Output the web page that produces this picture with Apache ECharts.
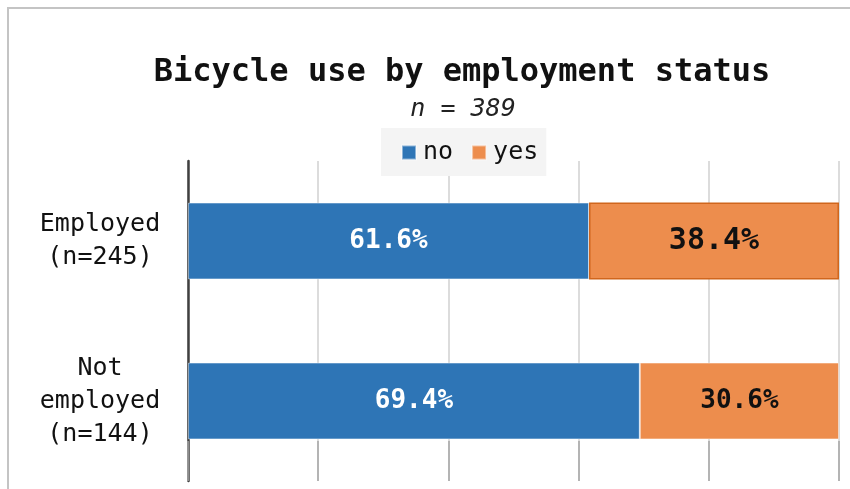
<!DOCTYPE html>
<html>
<head>
<meta charset="utf-8">
<script src="https://cdn.jsdelivr.net/npm/echarts@6/dist/echarts.min.js"></script>
<style>
html,body{margin:0;padding:0;background:#fff;}
#chart{width:850px;height:489px;}
</style>
</head>
<body>
<div id="chart"></div>
<script>
const categories = ["Employed\n(n=245)", "Not\nemployed\n(n=144)"];
const seriesNames = ["no", "yes"];
const noValues = [61.6, 69.4];
const yesValues = [38.4, 30.6];
const xTicks = [0, 20, 40, 60, 80, 100];

const MONO = '"DejaVu Sans Mono", "Liberation Mono", monospace';
const chart = echarts.init(document.getElementById('chart'), null, {renderer: 'canvas'});

const yesData = yesValues.map((v, i) => {
  const d = {value: v};
  if (i === 0) {
    d.itemStyle = {borderColor: '#d0661d', borderWidth: 1.5};
    d.label = {fontSize: 30};
  }
  return d;
});

chart.setOption({
  backgroundColor: '#ffffff',
  animation: false,
  graphic: [{
    type: 'rect',
    shape: {x: 8, y: 8, width: 900, height: 600},
    style: {fill: 'none', stroke: '#c4c4c4', lineWidth: 2},
    silent: true, z: -10
  }],
  title: [
    {
      text: 'Bicycle use by employment status',
      left: 462, top: 57, textAlign: 'center', padding: 0,
      textStyle: {fontFamily: MONO, fontWeight: 'bold', fontSize: 32, color: '#111'}
    },
    {
      text: 'n = 389',
      left: 463, top: 97, textAlign: 'center', padding: 0,
      textStyle: {fontFamily: MONO, fontStyle: 'italic', fontWeight: 'normal', fontSize: 25, color: '#222'}
    }
  ],
  legend: {
    data: seriesNames,
    left: 381, top: 128,
    padding: [12, 8, 11, 20],
    backgroundColor: '#f4f4f4',
    itemWidth: 14, itemHeight: 14, itemGap: 18,
    icon: 'rect',
    textStyle: {fontFamily: MONO, fontSize: 25, color: '#111', padding: [0, 0, 0, 2]}
  },
  grid: {left: 188, right: 11, top: 161, bottom: 8, containLabel: false},
  xAxis: {
    type: 'value', min: 0, max: 100, interval: 20,
    axisLabel: {show: false},
    axisLine: {show: false},
    axisTick: {show: true, inside: true, length: 40, lineStyle: {color: '#a6a6a6', width: 1.5}},
    splitLine: {show: true, lineStyle: {color: '#d0d0d0', width: 1.5}}
  },
  yAxis: {
    type: 'category', data: categories, inverse: true,
    axisLine: {show: true, lineStyle: {color: '#404040', width: 2.5}},
    axisTick: {show: false},
    axisLabel: {
      fontFamily: MONO, fontSize: 25, color: '#111', lineHeight: 33,
      align: 'center', margin: 88
    }
  },
  series: [
    {
      name: seriesNames[0], type: 'bar', stack: 'total', barWidth: '48%',
      data: noValues,
      itemStyle: {color: '#2e75b6', borderColor: 'rgba(255,255,255,0.45)', borderWidth: 1},
      label: {
        show: true, position: 'inside', formatter: p => p.value.toFixed(1) + '%',
        fontFamily: MONO, fontWeight: 'bold', fontSize: 26, color: '#ffffff'
      }
    },
    {
      name: seriesNames[1], type: 'bar', stack: 'total', barWidth: '48%',
      data: yesData,
      itemStyle: {color: '#ed8d4d', borderColor: 'rgba(255,255,255,0.45)', borderWidth: 1},
      label: {
        show: true, position: 'inside', formatter: p => p.value.toFixed(1) + '%',
        fontFamily: MONO, fontWeight: 'bold', fontSize: 26, color: '#111'
      }
    }
  ]
});
</script>
</body>
</html>
